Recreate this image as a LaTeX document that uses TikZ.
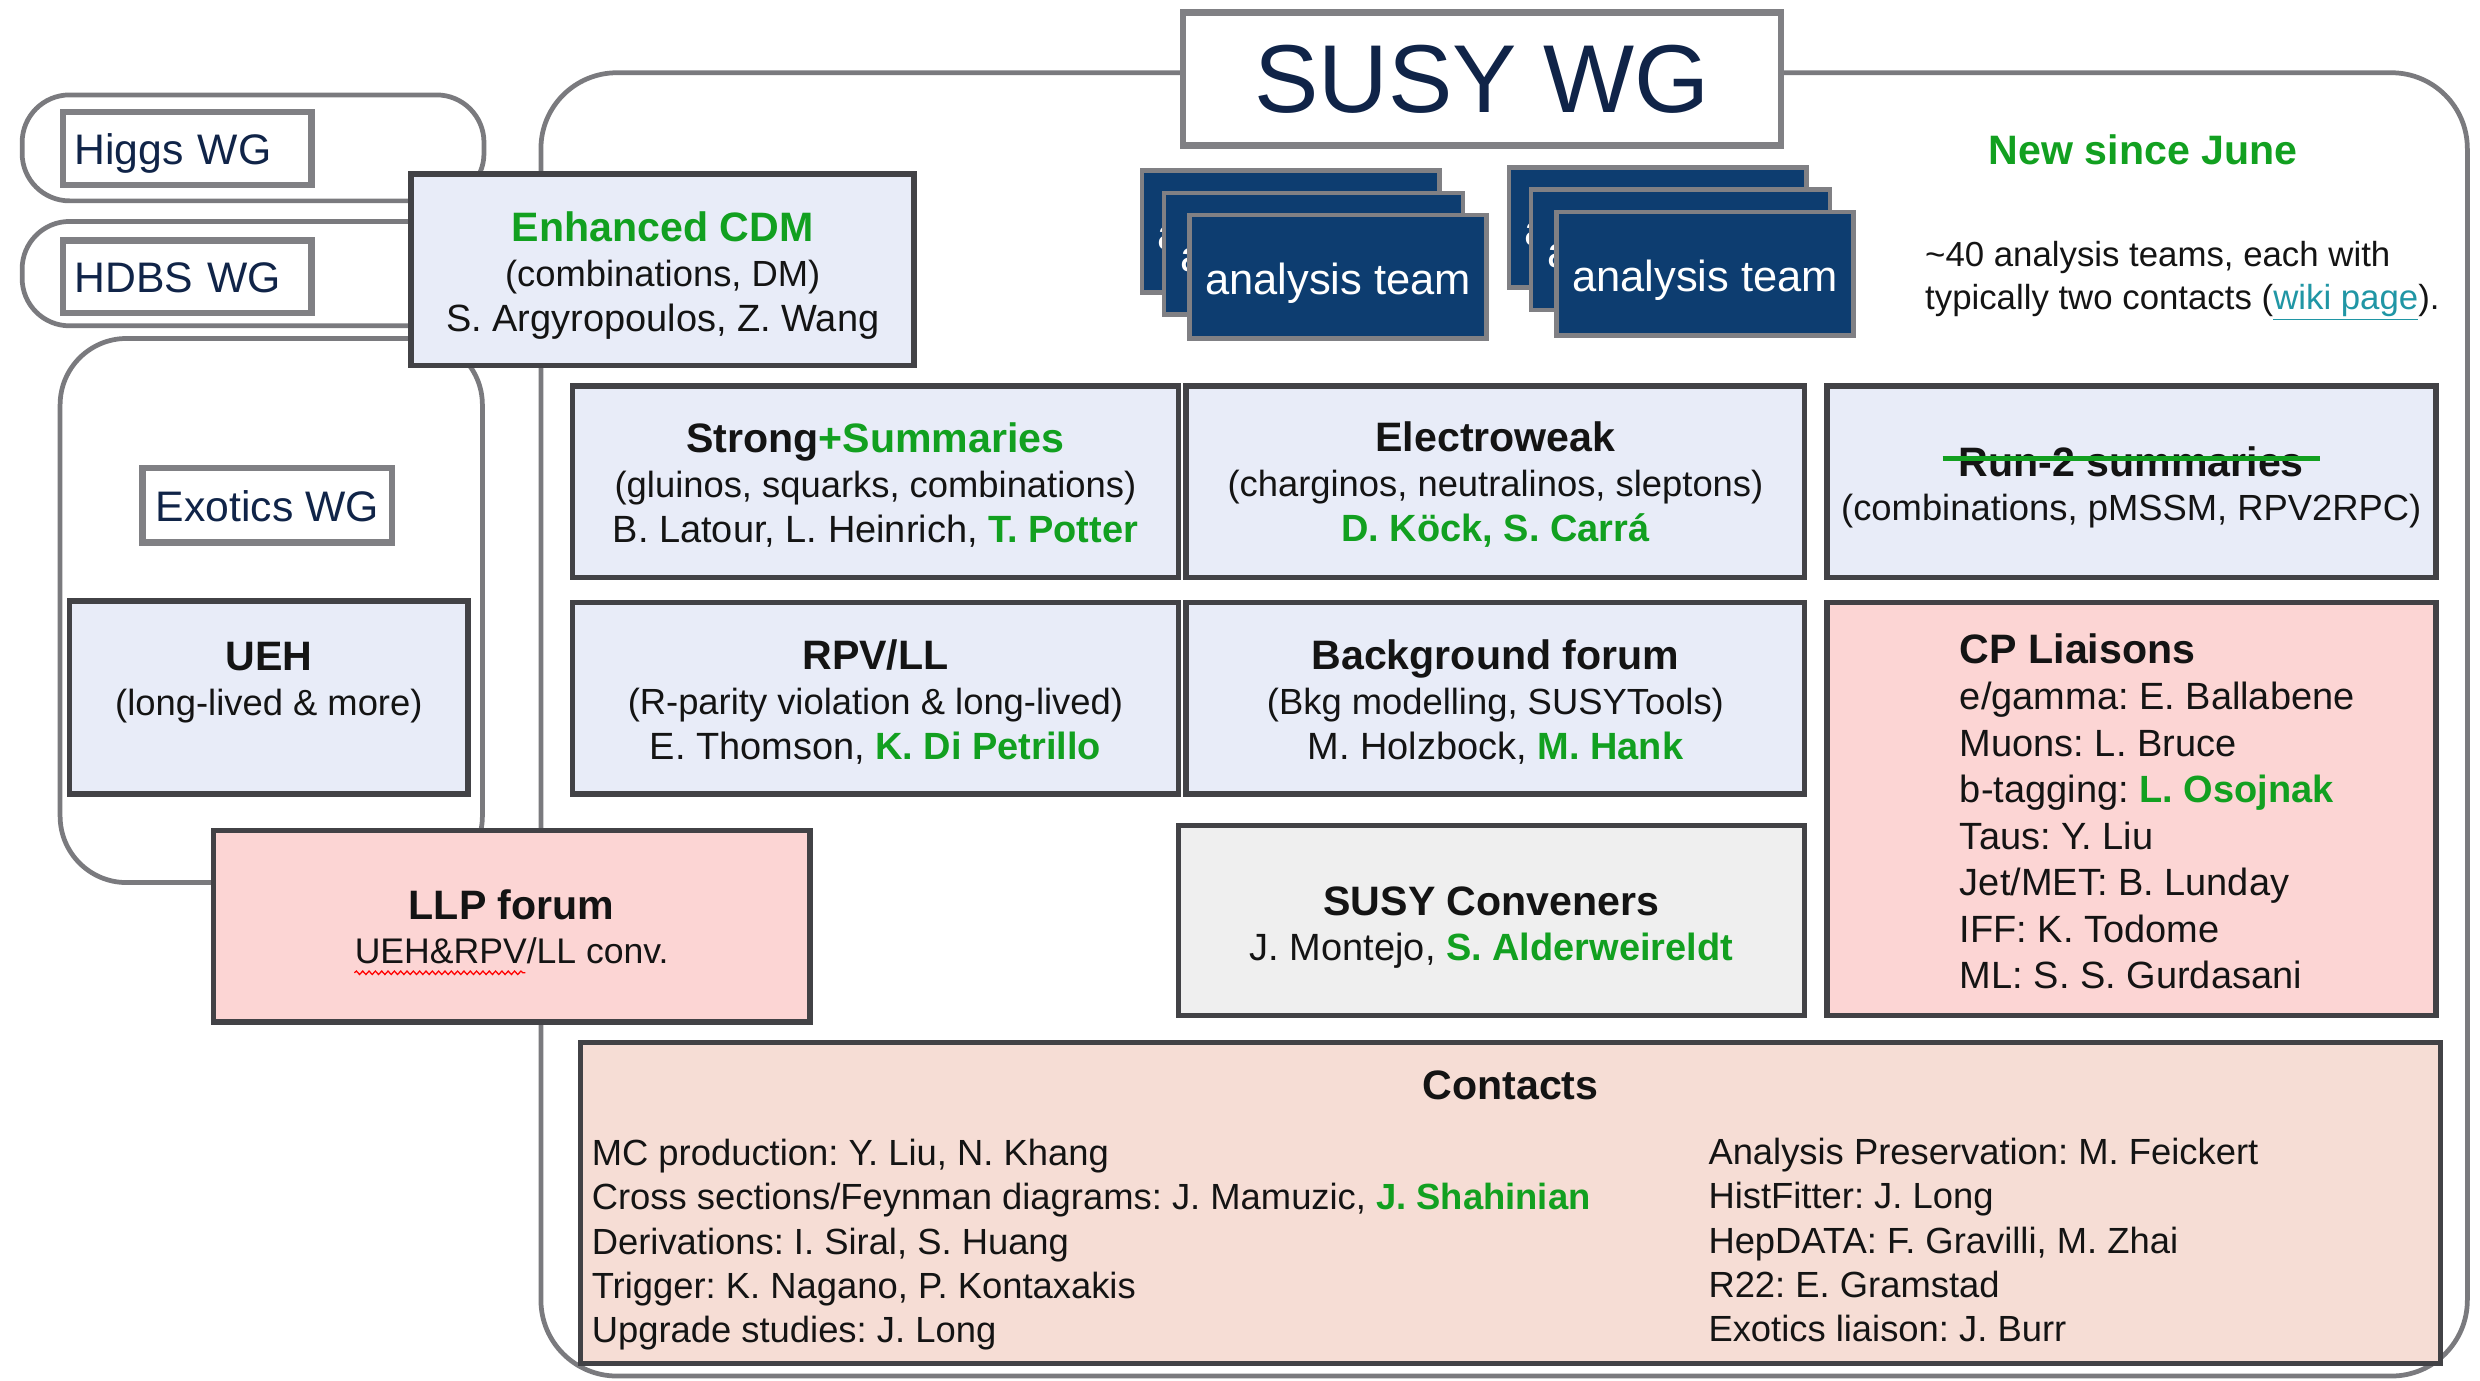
\documentclass[tikz,border=0pt]{standalone}
\usepackage{fontspec}
\setmainfont{Liberation Sans}
\usetikzlibrary{calc,decorations.pathmorphing}
\frenchspacing
\definecolor{sgreen}{RGB}{18,160,32}
\definecolor{navytxt}{RGB}{16,36,72}
\definecolor{teamblue}{RGB}{13,61,112}
\definecolor{boxblue}{RGB}{232,236,248}
\definecolor{pinkfill}{RGB}{252,213,212}
\definecolor{peach}{RGB}{246,221,213}
\definecolor{convgray}{RGB}{239,239,239}
\definecolor{bordergray}{RGB}{66,66,70}
\definecolor{contgray}{RGB}{122,122,126}
\definecolor{wggray}{RGB}{128,128,132}
\definecolor{linkteal}{RGB}{32,150,165}
\definecolor{txt}{RGB}{20,20,20}
\newcommand\fsz[2]{\fontsize{#1}{#2}\selectfont}
\newcommand\ttl[1]{{\fsz{26}{28.5}\bfseries #1}}
\newcommand\nm[1]{{\fsz{24}{28.5}#1}}
\newcommand\gn[1]{\textcolor{sgreen}{\bfseries #1}}
\newcommand\lowtxt[2]{\raisebox{-#1pt}[0pt][0pt]{#2}}
\begin{document}
\begin{tikzpicture}[x=1pt,y=-1pt,
  cont/.style={draw=contgray, line width=3pt, inner sep=0pt, outer sep=0pt},
  wg/.style={draw=wggray, line width=4pt, fill=white, text=navytxt, font=\fsz{27}{32}, inner sep=0pt},
  cbox/.style={draw=bordergray, line width=3.5pt, fill=boxblue, inner sep=0pt},
  pbox/.style={cbox, fill=pinkfill},
  team/.style={draw=wggray, line width=3pt, fill=teamblue, text=white, font=\fsz{27.5}{32}, inner sep=0pt},
  plain/.style={inner sep=0pt, text=txt, font=\fsz{23}{28.5}},
  ctxt/.style={plain, align=center},
  spell/.style={draw=red, line width=0.8pt, decorate, decoration={snake, amplitude=1.1pt, segment length=4pt}}
]
\useasboundingbox[fill=white] (0,0) rectangle (1568,873);

% containers
\node[cont, rounded corners=30pt, minimum width=292, minimum height=67] (higgsC) at (160,93.5) {};
\node[cont, rounded corners=30pt, minimum width=292, minimum height=66] (hdbsC) at (160,173) {};
\node[cont, rounded corners=42pt, minimum width=267, minimum height=344] (exoC) at (171.5,386) {};
\node[cont, rounded corners=48pt, minimum width=1218, minimum height=824] (susyC) at (951,458) {};

% WG boxes
\node[wg, minimum width=157, minimum height=46, text width=143, inner xsep=7pt, align=left] (higgs) at (118.5,94) {\lowtxt{10}{Higgs WG}};
\node[wg, minimum width=157, minimum height=46, text width=143, inner xsep=7pt, align=left] (hdbs) at (118.5,175) {\lowtxt{10}{HDBS WG}};
\node[wg, minimum width=158, minimum height=47] (exo) at (169,319.5) {\lowtxt{10}{Exotics WG}};

% UEH
\node[cbox, minimum width=252, minimum height=122] (ueh) at (170,441) {};
\node[ctxt] (uehtxt) at (170,431.5) {\ttl{UEH}\\(long-lived \& more)};

% Enhanced CDM
\node[cbox, minimum width=318, minimum height=121] (cdm) at (419,170.5) {};
\node[ctxt] (cdmtxt) at (419,174)
  {{\fsz{26}{28.5}\bfseries\color{sgreen}Enhanced CDM}\\(combinations, DM)\\\nm{S. Argyropoulos, Z. Wang}};

% LLP forum
\node[pbox, minimum width=377, minimum height=121] (llp) at (323.5,585.5) {};
\node[plain, font=\fsz{26}{28.5}\bfseries] (llpt) at (323.5,572) {LLP forum};
\node[plain, font=\fsz{22.5}{28}] (llps) at (323.5,601) {UEH\&RPV/LL conv.};
\draw[spell] ($(llps.base west)+(0,6)$) -- ($(llps.base west)+(108,6)$);

% title
\node[draw=wggray, line width=4pt, fill=white, minimum width=378, minimum height=84, text=navytxt, font=\fsz{61}{70}, inner sep=0pt] (title) at (937,50) {SUSY WG};

% analysis teams
\node[team, minimum width=188, minimum height=77] (at1a) at (816,146.5) {\lowtxt{11}{analysis team}};
\node[team, minimum width=189, minimum height=77] (at1b) at (830.5,160.5) {\lowtxt{11}{analysis team}};
\node[team, minimum width=188, minimum height=78] (at1c) at (846,175) {\lowtxt{11}{analysis team}};
\node[team, minimum width=188, minimum height=76] (at2a) at (1048,144) {\lowtxt{11}{analysis team}};
\node[team, minimum width=189, minimum height=76] (at2b) at (1062.5,158) {\lowtxt{11}{analysis team}};
\node[team, minimum width=188, minimum height=78] (at2c) at (1078,173) {\lowtxt{11}{analysis team}};

% new since June
\node[inner sep=0pt, text=sgreen, font=\fsz{26}{30}\bfseries] (newjune) at (1355,95) {New since June};
\node[inner sep=0pt, anchor=west, align=left, text=txt, font=\fsz{22}{27}] (teamsnote) at (1217,177.5)
  {\textasciitilde 40 analysis teams, each with\\typically two contacts ({\color{linkteal}\underline{wiki page}}).};

% main grid
\node[cbox, minimum width=383, minimum height=121] (strong) at (553.5,304.5) {};
\node[ctxt] (strongtxt) at (553.5,306.5)
  {\ttl{Strong\textcolor{sgreen}{+Summaries}}\\(gluinos, squarks, combinations)\\\nm{B. Latour, L. Heinrich, \gn{T. Potter}}};
\node[cbox, minimum width=391, minimum height=121] (ew) at (945.5,304.5) {};
\node[ctxt] (ewtxt) at (945.5,306.5)
  {\ttl{Electroweak}\\(charginos, neutralinos, sleptons)\\\nm{\gn{D. Köck, S. Carrá}}};
\node[cbox, minimum width=385, minimum height=121] (run2) at (1347.5,304.5) {};
\node[plain, font=\fsz{26}{28.5}\bfseries] (run2t) at (1347.5,292) {Run-2 summaries};
\node[plain] (run2s) at (1347.5,323) {(combinations, pMSSM, RPV2RPC)};
\draw[sgreen, line width=3pt] ($(run2t.west)+(-10,-2)$) -- ($(run2t.east)+(10,-2)$);

\node[cbox, minimum width=383, minimum height=121] (rpv) at (553.5,441.5) {};
\node[ctxt] (rpvtxt) at (553.5,444)
  {\ttl{RPV/LL}\\(R-parity violation \& long-lived)\\\nm{E. Thomson, \gn{K. Di Petrillo}}};
\node[cbox, minimum width=391, minimum height=121] (bkg) at (945.5,441.5) {};
\node[ctxt] (bkgtxt) at (945.5,444)
  {\ttl{Background forum}\\(Bkg modelling, SUSYTools)\\\nm{M. Holzbock, \gn{M. Hank}}};

\node[pbox, minimum width=385, minimum height=261] (cp) at (1347.5,511.5) {};
\node[plain, anchor=west, align=left, font=\fsz{24}{29.4}] (cptxt) at (1239,513)
  {{\fsz{26}{29.4}\bfseries CP Liaisons}\\e/gamma: E. Ballabene\\Muons: L. Bruce\\b-tagging: \gn{L. Osojnak}\\Taus: Y. Liu\\Jet/MET: B. Lunday\\IFF: K. Todome\\ML: S. S. Gurdasani};

\node[cbox, fill=convgray, minimum width=396, minimum height=120] (conv) at (943,582) {};
\node[ctxt] (convtxt) at (943,586.5)
  {\ttl{SUSY Conveners}\\\nm{J. Montejo, \gn{S. Alderweireldt}}};

% contacts
\node[cbox, fill=peach, minimum width=1176, minimum height=203] (contacts) at (955,760.5) {};
\node[plain, font=\fsz{26}{28.5}\bfseries] (contt) at (955,686) {Contacts};
\node[plain, anchor=west, align=left, font=\fsz{23}{28}] (contl) at (374,787)
  {MC production: Y. Liu, N. Khang\\Cross sections/Feynman diagrams: J. Mamuzic, \gn{J. Shahinian}\\Derivations: I. Siral, S. Huang\\Trigger: K. Nagano, P. Kontaxakis\\Upgrade studies: J. Long};
\node[plain, anchor=west, align=left, font=\fsz{23}{28}] (contr) at (1080,784)
  {Analysis Preservation: M. Feickert\\HistFitter: J. Long\\HepDATA: F. Gravilli, M. Zhai\\R22: E. Gramstad\\Exotics liaison: J. Burr};
\end{tikzpicture}
\end{document}
